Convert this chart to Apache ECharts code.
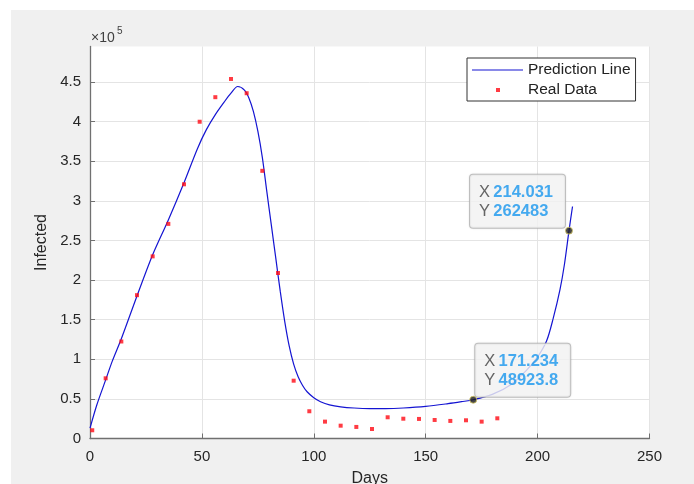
<!DOCTYPE html>
<html>
<head>
<meta charset="utf-8">
<script src="https://cdn.jsdelivr.net/npm/echarts@6/dist/echarts.min.js"></script>
<style>
  html, body { margin: 0; padding: 0; background: #ffffff; }
  #frame { position: absolute; left: 11px; top: 10px; right: 0; bottom: 0; background: #f0f0f0; }
  #chart { position: absolute; left: 0; top: 0; width: 694px; height: 484px; }
</style>
</head>
<body>
<div id="frame"></div>
<div id="chart"></div>
<script>
// Fitted model curve (day, infected count)
const predDays = [0, 3, 7, 10, 14, 21, 28, 35, 42, 48, 52, 56, 60, 63, 66, 69, 71, 73, 75, 77, 79, 81, 83, 85, 87, 89, 91, 93, 95, 97, 100, 103, 107, 112, 118, 125, 132, 140, 150, 160, 166, 171.234, 180, 188, 195, 200, 204, 207, 210, 212, 214.031, 215.6];
const predValues = [13000, 42000, 74000, 98000, 126000, 180000, 232000, 276000, 323000, 366000, 390000, 409000, 425000, 436000, 444500, 440000, 430000, 413000, 388000, 355000, 312000, 270000, 228000, 186000, 148000, 117000, 94000, 78000, 67000, 59000, 51500, 46500, 42500, 40000, 38500, 37800, 37800, 38500, 40500, 44000, 46500, 48923.8, 56000, 68000, 86000, 103000, 123000, 152000, 188000, 220000, 262483, 293000];

// Weekly observed cases
const realDays = [1, 7, 14, 21, 28, 35, 42, 49, 56, 63, 70, 77, 84, 91, 98, 105, 112, 119, 126, 133, 140, 147, 154, 161, 168, 175, 182];
const realValues = [10400, 76000, 122500, 181000, 230000, 271000, 321000, 400000, 431000, 454000, 436000, 338000, 209000, 73000, 34400, 21300, 16200, 14600, 12000, 26800, 25000, 24700, 23400, 22200, 23000, 21300, 25500];

// Data tips pinned on the curve
const tipDays = [171.234, 214.031];
const tipValues = [48923.8, 262483];

// Axis ticks
const xTicks = [0, 50, 100, 150, 200, 250];
const yTickStep = 50000;

const chart = echarts.init(document.getElementById('chart'), null, { renderer: 'canvas', width: 694, height: 484 });

const axisText = '#262626';
const gridColor = '#e4e4e4';
const axisColor = '#707070';
const font = 'Liberation Sans, Arial, sans-serif';

// Tip box placement relative to the marker's bounding box (top-left corner of the box)
const tipBoxPos = [
  [6, -52],     // box up and to the right of the first tip
  [-95, -52]    // box up and to the left of the second tip
];

const option = {
  animation: false,
  textStyle: { fontFamily: font },
  grid: {
    left: 90, top: 46.5, width: 559.5, height: 392,
    outerBoundsMode: 'none',
    containLabel: false,
    show: true, backgroundColor: '#ffffff', borderWidth: 0
  },
  xAxis: {
    type: 'value',
    min: xTicks[0], max: xTicks[xTicks.length - 1], interval: xTicks[1] - xTicks[0],
    name: 'Days', nameLocation: 'middle', nameGap: 32,
    nameTextStyle: { fontSize: 16, color: axisText },
    axisLine: { show: true, onZero: false, lineStyle: { color: axisColor, width: 1.3 } },
    axisTick: { show: true, inside: true, length: 5, lineStyle: { color: axisColor } },
    axisLabel: { fontSize: 15, color: axisText, margin: 11 },
    splitLine: { show: true, lineStyle: { color: gridColor, width: 1 } }
  },
  yAxis: {
    type: 'value',
    min: 0, max: 495000, interval: yTickStep,
    name: 'Infected', nameLocation: 'middle', nameGap: 40, nameRotate: 90,
    nameTextStyle: { fontSize: 16, color: axisText },
    axisLine: { show: true, onZero: false, lineStyle: { color: axisColor, width: 1.3 } },
    axisTick: { show: true, inside: true, length: 5, lineStyle: { color: axisColor } },
    axisLabel: {
      fontSize: 15, color: axisText, margin: 9, showMaxLabel: false,
      formatter: v => (v % yTickStep === 0 ? String(v / 1e5) : '')
    },
    splitLine: { show: true, showMaxLine: false, lineStyle: { color: gridColor, width: 1 } }
  },
  legend: {
    left: 467, top: 58,
    orient: 'vertical',
    backgroundColor: '#ffffff',
    borderColor: '#333333', borderWidth: 1, borderRadius: 0,
    padding: [4, 5, 3, 5],
    itemGap: 4, itemWidth: 51, itemHeight: 4,
    textStyle: { fontSize: 15.5, color: '#222222' },
    data: [
      { name: 'Prediction Line', icon: 'path://M0,1.5h51v1h-51z' },
      { name: 'Real Data', icon: 'path://M0,0M51,4M24,0h4v4h-4z' }
    ]
  },
  graphic: [
    {
      type: 'text', left: 91, top: 31,
      style: { text: '×10', fontSize: 14, fill: '#404040', fontFamily: font }
    },
    {
      type: 'text', left: 117, top: 26,
      style: { text: '5', fontSize: 10, fill: '#404040', fontFamily: font }
    }
  ],
  series: [
    {
      name: 'Prediction Line',
      type: 'line',
      data: predDays.map((d, i) => [d, predValues[i]]),
      symbol: 'none',
      smooth: 0.3,
      lineStyle: { color: '#1414d2', width: 1.2 },
      itemStyle: { color: '#1414d2' },
      z: 3
    },
    {
      name: 'Real Data',
      type: 'scatter',
      data: realDays.map((d, i) => [d, realValues[i]]),
      symbol: 'rect',
      symbolSize: 4,
      itemStyle: { color: '#ff0a14' },
      z: 4
    },
    {
      name: 'tips',
      type: 'scatter',
      symbol: 'circle',
      symbolSize: 7,
      itemStyle: { color: '#1a1a1a', borderColor: '#d6c860', borderWidth: 1 },
      z: 6,
      data: tipDays.map((d, i) => ({
        value: [d, tipValues[i]],
        label: {
          show: true,
          position: tipBoxPos[i],
          formatter: p => '{k|X} {v|' + p.value[0] + '}\n{k|Y} {v|' + p.value[1] + '}',
          backgroundColor: '#f8f8f8',
          borderColor: '#b8b8b8', borderWidth: 1, borderRadius: 3,
          padding: [8, 12, 7, 9],
          shadowColor: 'rgba(0,0,0,0.12)', shadowBlur: 2,
          rich: {
            k: { fontSize: 16.5, color: '#404040', lineHeight: 19 },
            v: { fontSize: 16.5, fontWeight: 'bold', color: '#1896ee', lineHeight: 19 }
          }
        }
      }))
    }
  ]
};

chart.setOption(option);
</script>
</body>
</html>
